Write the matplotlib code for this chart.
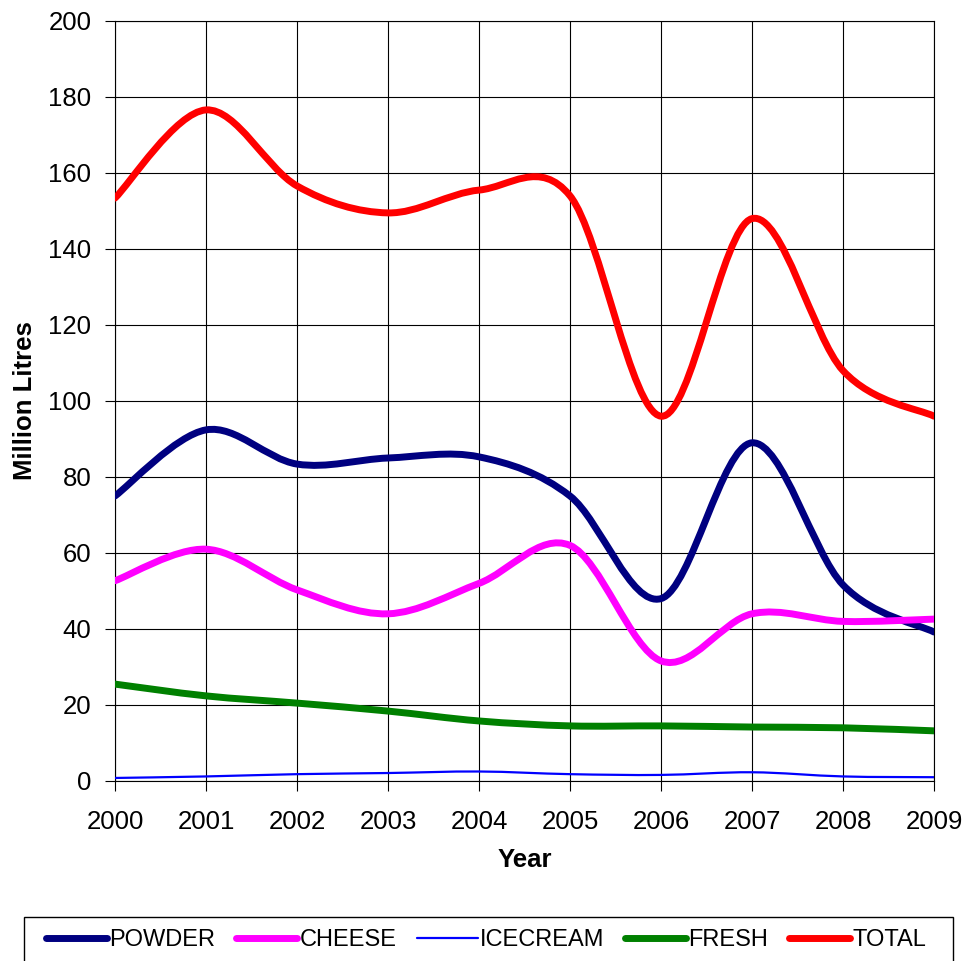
"""Milk utilisation by product, 2000-2009."""

import numpy as np
import matplotlib.pyplot as plt
from matplotlib.path import Path
from matplotlib.patches import PathPatch, Rectangle
from matplotlib.lines import Line2D

plt.rcParams["font.family"] = ["Liberation Sans", "DejaVu Sans"]

years = [2000, 2001, 2002, 2003, 2004, 2005, 2006, 2007, 2008, 2009]
powder = [75.0, 92.4, 83.4, 85.0, 85.3, 75.0, 48.0, 89.0, 51.6, 39.2]
cheese = [52.7, 61.0, 50.3, 44.0, 52.0, 62.0, 31.6, 44.0, 42.0, 42.6]
icecream = [0.8, 1.2, 1.8, 2.1, 2.5, 1.8, 1.6, 2.3, 1.2, 1.0]
fresh = [25.5, 22.4, 20.5, 18.4, 15.8, 14.5, 14.5, 14.2, 14.0, 13.2]
total = [153.4, 176.6, 156.6, 149.5, 155.5, 154.0, 96.0, 148.0, 108.0, 96.0]

series = [
    ("POWDER", powder, "#000080", 5.0),
    ("CHEESE", cheese, "#FF00FF", 5.0),
    ("ICECREAM", icecream, "#0000FF", 1.6),
    ("FRESH", fresh, "#008000", 5.0),
    ("TOTAL", total, "#FF0000", 5.0),
]


def smooth_path(xs, ys):
    """Bezier path through the points, spreadsheet-style smoothed line."""
    pts = np.column_stack([xs, ys]).astype(float)
    n = len(pts)
    verts = [pts[0]]
    codes = [Path.MOVETO]
    for i in range(n - 1):
        p0 = pts[max(i - 1, 0)]
        p1 = pts[i]
        p2 = pts[i + 1]
        p3 = pts[min(i + 2, n - 1)]
        c1 = p1 + (p2 - p0) / 6.0
        c2 = p2 - (p3 - p1) / 6.0
        verts += [c1, c2, p2]
        codes += [Path.CURVE4] * 3
    return Path(verts, codes)


fig = plt.figure(figsize=(9.67, 9.61), dpi=100)
ax = fig.add_axes([115 / 967, 1 - 781 / 961, 819 / 967, 760 / 961])

handles = []
for name, values, color, lw in series:
    patch = PathPatch(smooth_path(years, values), facecolor="none",
                      edgecolor=color, linewidth=lw, capstyle="round",
                      joinstyle="round", zorder=3)
    ax.add_patch(patch)
    handles.append(Line2D([], [], color=color, linewidth=lw,
                          solid_capstyle="round", label=name))

ax.set_xlim(2000, 2009)
ax.set_ylim(0, 200)
ax.set_xticks(years)
ax.set_yticks(range(0, 201, 20))
ax.grid(True, color="black", linewidth=0.8)
ax.tick_params(direction="out", length=7, width=0.8, labelsize=18.5)
ax.tick_params(axis="x", pad=14)
ax.tick_params(axis="y", pad=10)
for s in ax.spines.values():
    s.set_linewidth(0.8)

ax.set_xlabel("Year", fontsize=18.5, fontweight="bold", labelpad=10)
ax.set_ylabel("Million Litres", fontsize=18.5, fontweight="bold", labelpad=8)

# legend box runs off the bottom of the figure
fig.patches.append(Rectangle((24 / 967, -0.02), 929 / 967, 0.02 + 44 / 961,
                             transform=fig.transFigure, facecolor="white",
                             edgecolor="black", linewidth=1.0))
fig.legend(handles=handles, loc="center", ncol=5,
           bbox_to_anchor=(486 / 967, 1 - 940 / 961),
           fontsize=17, handlelength=2.6, handletextpad=0.1,
           columnspacing=0.85, borderpad=0, frameon=False)

fig.savefig("out.png", dpi=100)
